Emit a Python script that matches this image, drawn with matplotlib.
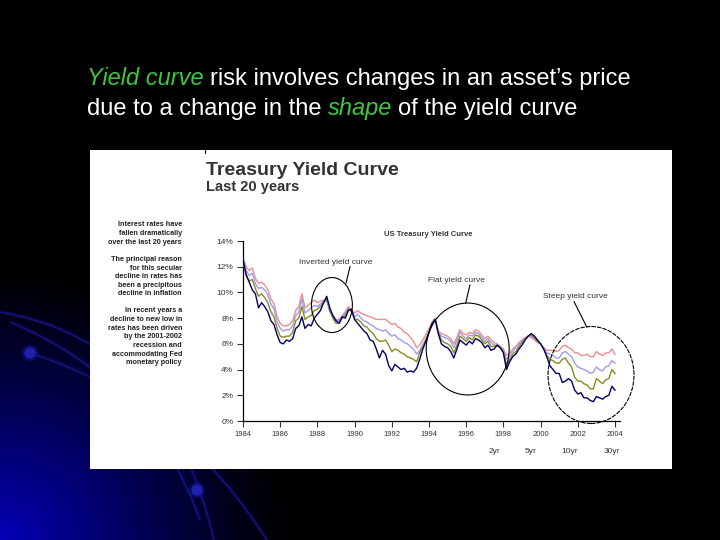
import numpy as np
import matplotlib
matplotlib.use('Agg')
import matplotlib.pyplot as plt
from matplotlib.patches import Ellipse, Rectangle, Circle, PathPatch
from matplotlib.path import Path

plt.rcParams['font.family'] = ['Liberation Sans', 'DejaVu Sans']

# bi-monthly readings, Jan 1984 .. Jan 2004 (percent)
years = 1984 + np.arange(121) / 6.0

yr2 = [12.6, 11.4, 10.8, 10.2, 9.9, 8.8,
       9.2, 8.9, 8.5, 7.8, 7.5, 6.7,
       6.1, 6.0, 6.3, 6.2, 6.4, 7.2,
       7.4, 8.1, 7.2, 7.5, 7.4, 8.0,
       8.3, 8.6, 9.2, 9.7, 8.8, 8.2,
       7.8, 7.6, 8.1, 8.0, 8.6, 8.7,
       7.9, 7.6, 7.3, 7.0, 6.8, 6.3,
       6.2, 5.6, 4.9, 5.5, 5.2, 4.3,
       3.9, 4.4, 4.2, 4.0, 4.1, 3.8,
       3.9, 3.8, 4.1, 4.8, 5.6, 6.2,
       6.9, 7.6, 7.9, 6.8, 6.0, 5.8,
       5.7, 5.4, 4.9, 5.6, 6.3, 6.1,
       5.9, 6.2, 6.0, 6.4, 6.3, 6.1,
       5.7, 5.9, 5.5, 5.6, 5.9, 5.7,
       5.3, 4.0, 4.6, 5.0, 5.2, 5.6,
       5.9, 6.3, 6.6, 6.8, 6.6, 6.3,
       6.0, 5.6, 5.0, 4.3, 4.0, 3.7,
       3.7, 3.0, 3.1, 3.3, 3.1, 2.4,
       2.1, 2.2, 1.8, 1.8, 1.6, 1.5,
       1.9, 1.8, 1.7, 1.9, 2.0, 2.7,
       2.4]

yr5 = [12.5, 11.3, 10.9, 11.0, 10.3, 9.7,
       9.9, 9.6, 9.2, 8.5, 8.1, 7.2,
       6.6, 6.5, 6.6, 6.6, 6.9, 7.8,
       8.0, 8.9, 7.9, 8.1, 8.2, 8.6,
       8.7, 8.9, 9.2, 9.5, 8.6, 8.0,
       7.6, 7.6, 8.0, 8.2, 8.7, 8.5,
       7.9, 7.9, 7.7, 7.4, 7.3, 7.0,
       6.8, 6.4, 6.2, 6.2, 6.3, 5.9,
       5.4, 5.6, 5.5, 5.3, 5.2, 5.0,
       4.9, 4.8, 4.6, 5.3, 5.8, 6.3,
       6.9, 7.5, 7.9, 6.9, 6.3, 6.1,
       6.0, 5.8, 5.3, 5.9, 6.6, 6.4,
       6.2, 6.5, 6.3, 6.7, 6.6, 6.3,
       6.0, 6.2, 5.8, 5.8, 5.9, 5.7,
       5.4, 4.3, 4.8, 5.2, 5.4, 5.8,
       6.1, 6.4, 6.6, 6.7, 6.5, 6.2,
       6.0, 5.6, 5.1, 4.8, 4.7, 4.5,
       4.5, 4.8, 4.9, 4.5, 4.2, 3.4,
       3.1, 3.1, 2.9, 2.8, 2.5, 2.5,
       3.3, 3.1, 2.9, 3.2, 3.3, 4.0,
       3.7]

yr10 = [12.6, 11.7, 11.3, 11.5, 10.7, 10.3,
        10.4, 10.2, 9.8, 9.1, 8.7, 7.7,
        7.2, 7.0, 7.1, 7.1, 7.4, 8.2,
        8.5, 9.5, 8.4, 8.6, 8.8, 9.0,
        8.9, 9.1, 9.3, 9.4, 8.5, 8.1,
        7.8, 7.8, 8.1, 8.4, 8.8, 8.5,
        8.1, 8.3, 8.0, 7.8, 7.7, 7.5,
        7.4, 7.2, 7.1, 7.0, 7.1, 6.8,
        6.6, 6.7, 6.4, 6.3, 6.1, 6.0,
        5.8, 5.6, 5.2, 5.5, 5.9, 6.4,
        6.9, 7.5, 7.9, 6.9, 6.6, 6.5,
        6.4, 6.2, 5.7, 6.3, 6.9, 6.6,
        6.4, 6.7, 6.6, 6.9, 6.8, 6.5,
        6.2, 6.4, 6.1, 5.9, 5.9, 5.7,
        5.5, 4.8, 5.1, 5.4, 5.7, 6.0,
        6.2, 6.4, 6.6, 6.6, 6.4, 6.2,
        6.0, 5.6, 5.3, 5.2, 5.1, 4.9,
        4.9, 5.3, 5.4, 5.2, 5.0, 4.5,
        4.2, 4.1, 4.0, 3.9, 3.7, 3.8,
        4.2, 4.0, 3.9, 4.2, 4.3, 4.7,
        4.5]

yr30 = [12.7, 12.0, 11.7, 11.9, 11.1, 10.7,
        10.8, 10.6, 10.2, 9.5, 9.1, 8.1,
        7.6, 7.4, 7.4, 7.5, 7.8, 8.6,
        8.9, 9.9, 8.8, 9.0, 9.2, 9.4,
        9.2, 9.3, 9.4, 9.4, 8.6, 8.2,
        7.9, 7.9, 8.2, 8.5, 8.9, 8.6,
        8.4, 8.6, 8.4, 8.3, 8.2, 8.1,
        8.0, 7.9, 7.9, 7.9, 7.9, 7.7,
        7.5, 7.6, 7.3, 7.2, 6.9, 6.8,
        6.5, 6.2, 5.7, 5.9, 6.3, 6.7,
        7.2, 7.7, 8.0, 7.0, 6.8, 6.7,
        6.6, 6.4, 6.0, 6.5, 7.1, 6.8,
        6.7, 6.9, 6.8, 7.1, 7.0, 6.7,
        6.4, 6.6, 6.3, 6.1, 6.0, 5.8,
        5.6, 5.1, 5.3, 5.6, 5.8, 6.1,
        6.3, 6.5, 6.6, 6.5, 6.3, 6.1,
        6.0, 5.7, 5.5, 5.5, 5.5, 5.4,
        5.5, 5.8, 5.9, 5.7, 5.6, 5.3,
        5.3, 5.1, 5.1, 5.2, 5.0, 5.0,
        5.4, 5.2, 5.1, 5.3, 5.3, 5.6,
        5.2]

series = [('2yr', yr2, '#000066', 5),
          ('5yr', yr5, '#8a8a1e', 4),
          ('10yr', yr10, '#9d9df0', 3),
          ('30yr', yr30, '#f08c8c', 2)]

notes = ["Interest rates have", "fallen dramatically", "over the last 20 years", "",
         "The principal reason", "for this secular", "decline in rates has",
         "been a precipitous", "decline in inflation", "",
         "In recent years a", "decline to new low in", "rates has been driven",
         "by the 2001-2002", "recession and", "accommodating Fed", "monetary policy"]

fig = plt.figure(figsize=(7.2, 5.4), dpi=100, facecolor='black')

# slide background (pixel coordinates)
bg = fig.add_axes([0, 0, 1, 1])
bg.set_xlim(0, 720)
bg.set_ylim(540, 0)
bg.axis('off')
xx, yy = np.meshgrid(np.arange(720), np.arange(540))
d = np.sqrt((xx / 290.0) ** 2 + ((540 - yy) / 270.0) ** 2)
glow = np.clip(1 - d, 0, 1) ** 1.15 * 0.72
img = np.zeros((540, 720, 3))
img[..., 2] = glow
img[..., 0] = glow * 0.02
bg.imshow(img, extent=(0, 720, 540, 0), aspect='auto', zorder=0)

for p0, p1, p2 in [((0, 312), (170, 340), (215, 545)),
                   ((10, 322), (150, 380), (200, 520)),
                   ((30, 353), (180, 400), (270, 545))]:
    path = Path([p0, p1, p2], [Path.MOVETO, Path.CURVE3, Path.CURVE3])
    bg.add_patch(PathPatch(path, fc='none', ec='#0c0c60', lw=3.0, alpha=0.45, zorder=1))
    bg.add_patch(PathPatch(path, fc='none', ec='#18188a', lw=1.0, alpha=0.85, zorder=1))
for cx, cy in [(30, 353), (197, 490)]:
    bg.add_patch(Circle((cx, cy), 7.5, color='#12128a', alpha=0.45, zorder=2))
    bg.add_patch(Circle((cx, cy), 5, color='#2222b4', alpha=0.9, zorder=2))

# white picture panel
bg.add_patch(Rectangle((90, 150), 582, 319, fc='white', ec='none', zorder=3))
bg.plot([205, 205], [146, 153], color='black', lw=0.8, zorder=4)

bg.text(206, 175, 'Treasury Yield Curve', fontsize=14, fontweight='bold',
        color='#333333', zorder=4)
bg.text(206, 191, 'Last 20 years', fontsize=10.5, fontweight='bold',
        color='#333333', zorder=4)
for i, line in enumerate(notes):
    bg.text(182, 225 + i * 8.6, line, fontsize=5.2, fontweight='bold', ha='right',
            va='center', color='#222222', zorder=4)

# slide heading with coloured italic words
green = '#3cc83c'
fig.canvas.draw()
renderer = fig.canvas.get_renderer()
for base_y, pieces in [(85, [('Yield curve', green, 'italic'),
                             ('risk involves changes in an asset\u2019s price', 'white', 'normal')]),
                       (115, [('due to a change in the', 'white', 'normal'),
                              ('shape', green, 'italic'),
                              ('of the yield curve', 'white', 'normal')])]:
    x = 87
    for txt, col, sty in pieces:
        t = bg.text(x, base_y, txt, fontsize=17, color=col, style=sty, va='baseline')
        bb = t.get_window_extent(renderer)
        x = bb.x1 + 6

# chart
ax = fig.add_axes([243 / 720, 1 - 421 / 540, 377 / 720, 180 / 540])
ax.set_facecolor('none')
lines = []
for name, vals, col, z in series:
    ln, = ax.plot(years, vals, color=col, lw=1.0, label=name, zorder=z)
    lines.append(ln)
ax.set_xlim(1984, 1984 + 377 / 18.6)
ax.set_ylim(0, 14)
ax.set_xticks(np.arange(1984, 2005, 2))
ax.set_yticks(np.arange(0, 15, 2))
ax.set_yticklabels(['%d%%' % v for v in range(0, 15, 2)])
for s in ['top', 'right']:
    ax.spines[s].set_visible(False)
for s in ['left', 'bottom']:
    ax.spines[s].set_linewidth(0.9)
ax.tick_params(direction='out', length=4, width=0.8, colors='#333333', labelsize=5.5, pad=3)
ax.tick_params(axis='y', labelsize=6)

ell_kw = dict(fill=False, ec='black', lw=0.8, clip_on=False, zorder=6)
ax.add_patch(Ellipse((1988.78, 9.02), 2.2, 4.28, **ell_kw))
ax.add_patch(Ellipse((1996.08, 5.6), 4.46, 7.15, **ell_kw))
ax.add_patch(Ellipse((2002.71, 3.58), 4.62, 7.54, ls=(0, (4, 1)), **ell_kw))
ax.plot([1989.54, 1989.75], [10.73, 12.0], color='black', lw=0.8, clip_on=False)
ax.plot([1995.97, 1996.2], [9.15, 10.58], color='black', lw=0.8, clip_on=False)
ax.plot([2002.48, 2001.8], [7.31, 9.28], color='black', lw=0.8, clip_on=False)

lab_kw = dict(fontsize=6, color='#333333', ha='center', va='center', clip_on=False)
ax.text(1989.0, 12.36, 'Inverted yield curve', **lab_kw)
ax.text(1995.45, 10.89, 'Flat yield curve', **lab_kw)
ax.text(2001.85, 9.72, 'Steep yield curve', **lab_kw)
ax.text(1993.95, 14.54, 'US Treasury Yield Curve', fontsize=5.5, fontweight='bold',
        color='#333333', ha='center', va='center', clip_on=False)

fig.legend(lines, [s[0] for s in series], loc='center',
           bbox_to_anchor=(554 / 720, 1 - 451 / 540), ncol=4, handlelength=0,
           handletextpad=0, columnspacing=3.0, frameon=False, fontsize=6,
           labelcolor='#333333')

fig.savefig('out.png', dpi=100, facecolor='black')
